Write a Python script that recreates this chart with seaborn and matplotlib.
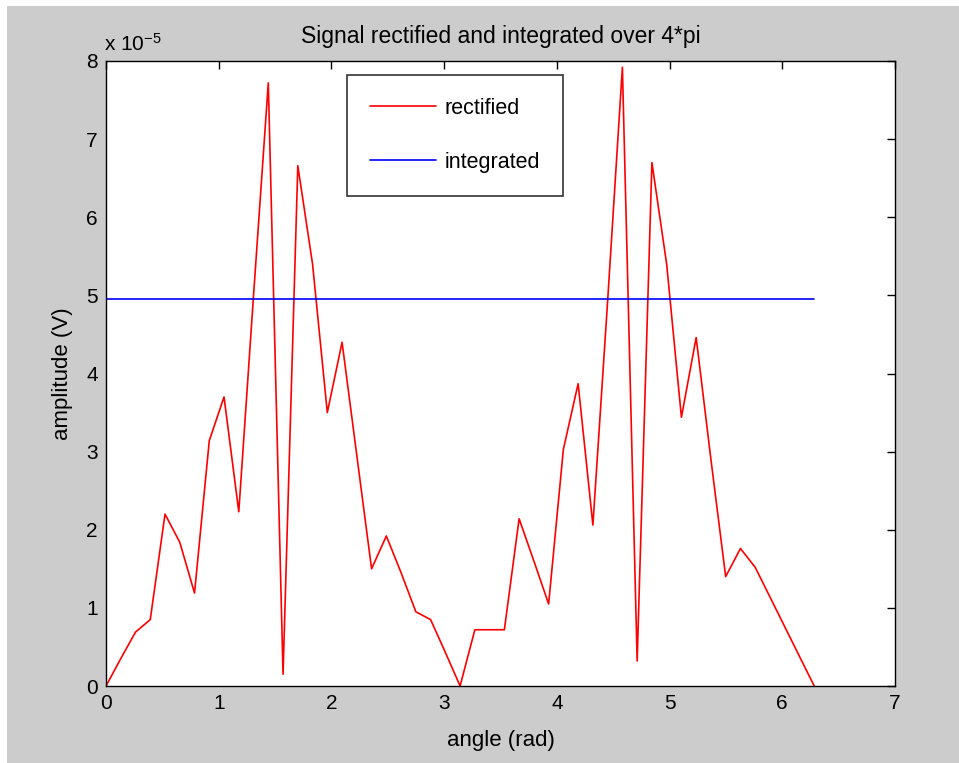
import numpy as np
import pandas as pd
import matplotlib
matplotlib.use("Agg")
import matplotlib.pyplot as plt
import seaborn as sns
from matplotlib.patches import Rectangle

# Sample angles: 49 points, step pi/24 over one full turn
angle = np.linspace(0, 2 * np.pi, 49)

# Rectified signal amplitude (units of 1e-5 V)
rectified = [
    0.00, 0.35, 0.69, 0.85, 2.20, 1.84, 1.19, 3.14, 3.70, 2.23,
    5.00, 7.72, 0.15, 6.66, 5.40, 3.50, 4.40, 2.95, 1.50, 1.92,
    1.45, 0.95, 0.85, 0.43, 0.00, 0.72, 0.72, 0.72, 2.14, 1.60,
    1.05, 3.03, 3.87, 2.06, 4.93, 7.92, 0.32, 6.70, 5.40, 3.44,
    4.46, 2.90, 1.40, 1.76, 1.52, 1.14, 0.76, 0.38, 0.00,
]
# Integrated (mean) level, units of 1e-5 V
integrated_level = 4.95
scale = 1e-5

df = pd.DataFrame({
    "angle": angle,
    "rectified": np.array(rectified) * scale,
    "integrated": np.full(angle.shape, integrated_level * scale),
})

sns.set_style("white")
plt.rcParams["font.family"] = ["Liberation Sans", "DejaVu Sans"]
plt.rcParams["text.color"] = "black"
plt.rcParams["axes.labelcolor"] = "black"
plt.rcParams["mathtext.default"] = "regular"

fig = plt.figure(figsize=(9.59, 7.63), dpi=100, facecolor="white")
fig.patches.append(Rectangle((7 / 959, 0), 1, 1 - 6 / 763, transform=fig.transFigure,
                             facecolor="#cccccc", edgecolor="none", zorder=-10))

ax = fig.add_axes([106 / 959, 1 - 686 / 763, (895 - 106) / 959, (686 - 61) / 763])
ax.set_facecolor("white")

sns.lineplot(data=df, x="angle", y="rectified", ax=ax, color="#ff0000",
             linewidth=1.2, label="rectified", sort=False)
sns.lineplot(data=df, x="angle", y="integrated", ax=ax, color="#0000ff",
             linewidth=1.2, label="integrated", sort=False)

ax.set_xlim(0, 7)
ax.set_ylim(0, 8e-5)
ax.set_xticks(range(0, 8))
ax.set_xticklabels([str(v) for v in range(0, 8)])
ax.set_yticks([v * scale for v in range(0, 9)])
ax.set_yticklabels([str(v) for v in range(0, 9)])

ax.tick_params(axis="both", which="both", direction="in", length=6, width=1,
               top=True, right=True, labelsize=15, colors="black", pad=6)
for s in ax.spines.values():
    s.set_visible(True)
    s.set_color("black")
    s.set_linewidth(1.0)

ax.set_xlabel("angle (rad)", fontsize=16, labelpad=12)
ax.set_ylabel("amplitude (V)", fontsize=16, labelpad=9)
ax.set_title("Signal rectified and integrated over 4*pi", fontsize=16.5, pad=13)

ax.text(-0.002, 1.01, r"x 10$^{-5}$", transform=ax.transAxes, fontsize=15,
        ha="left", va="bottom")

leg = ax.legend(loc="upper left", bbox_to_anchor=((347 - 106) / 789, 1 - (75 - 61) / 625),
                borderaxespad=0, frameon=True, fancybox=False, fontsize=15.5,
                handlelength=3.1, labelspacing=1.55, borderpad=1.05, handletextpad=0.4)
leg.get_frame().set_edgecolor("black")
leg.get_frame().set_linewidth(1.2)
for t in leg.get_texts():
    t.set_color("black")

fig.savefig("out.png", dpi=100, facecolor=fig.get_facecolor())
